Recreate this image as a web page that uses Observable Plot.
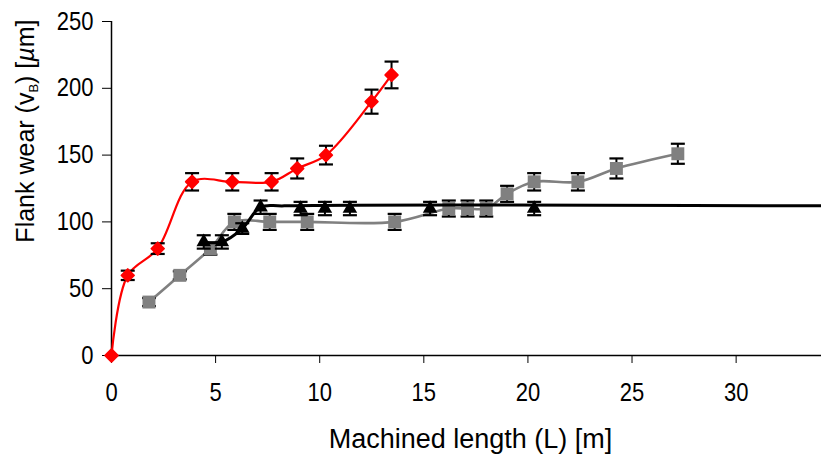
<!DOCTYPE html>
<html><head><meta charset="utf-8">
<script src="https://cdn.jsdelivr.net/npm/d3@7"></script>
<script src="https://cdn.jsdelivr.net/npm/@observablehq/plot@0.6"></script>
<style>
body{margin:0;background:#fff}
#chart{width:821px;height:459px}
</style>
</head><body><div id="chart"></div>
<script>
const xTicks = [0, 5, 10, 15, 20, 25, 30];
const yTicks = [0, 50, 100, 150, 200, 250];
const xLabel = "Machined length (L) [m]";
const yLabel = "Flank wear (vB) [µm]";

// red series (diamonds)
const redL = [0, 0.78, 2.22, 3.87, 5.8, 7.69, 8.92, 10.3, 12.49, 13.45];
const redV = [0, 60, 80, 130, 130, 130, 140, 150, 190, 210];
const redErr = [0, 3.5, 4, 6.5, 6.5, 6.5, 7.5, 7, 9, 10];

// gray series (squares)
const grayL = [1.8, 3.28, 4.75, 5.9, 7.6, 9.4, 13.6, 16.2, 17.1, 18.0, 19.0, 20.3, 22.4, 24.25, 27.2];
const grayV = [40, 60, 80, 100, 100, 100, 100, 110, 110, 110, 121, 130, 130, 140, 151];
const grayErr = [3, 3, 4.5, 6, 6, 6, 6, 6, 6, 6, 6, 6.5, 6.5, 7.5, 7.5];

// black series (triangles)
const blackL = [4.43, 5.3, 6.28, 7.16, 9.08, 10.25, 11.45, 15.3, 20.3];
const blackV = [85, 85, 95, 111, 110, 110, 110, 110, 110];
const blackErr = [5, 5, 4, 5, 5, 5, 5, 5, 5];
// black curve (levels off and runs to the right edge)
const blackLineL = [4.43, 5.3, 6.28, 7.16, 8.3, 34.1];
const blackLineV = [85, 85, 95, 111, 112, 112];

const xMax = 34.1;

const rows = (L, V, E) => L.map((l, i) => ({L: l, V: V[i], e: E ? E[i] : 0}));
const red = rows(redL, redV, redErr);
const gray = rows(grayL, grayV, grayErr);
const black = rows(blackL, blackV, blackErr);
const blackLine = rows(blackLineL, blackLineV);

const cap = {draw(ctx, size) { const r = Math.sqrt(size / Math.PI); ctx.moveTo(-r, 0); ctx.lineTo(r, 0); }};

function errorBars(data) {
  const d = data.filter(r => r.e > 0);
  return [
    Plot.ruleX(d, {x: "L", y1: r => r.V - r.e, y2: r => r.V + r.e, stroke: "black", strokeWidth: 2}),
    Plot.dot(d, {x: "L", y: r => r.V + r.e, symbol: cap, r: 7, stroke: "black", strokeWidth: 2.2}),
    Plot.dot(d, {x: "L", y: r => r.V - r.e, symbol: cap, r: 7, stroke: "black", strokeWidth: 2.2})
  ];
}

const chart = Plot.plot({
  width: 821,
  height: 459,
  marginLeft: 111,
  marginRight: 0,
  marginTop: 21,
  marginBottom: 104,
  style: {fontFamily: "'Liberation Sans', Arial, sans-serif", fontSize: "25px", color: "black", background: "white", overflow: "visible"},
  x: {domain: [0, xMax], ticks: xTicks, tickSize: 8, tickPadding: 20, label: null},
  y: {domain: [0, 250], ticks: yTicks, tickSize: 9, tickPadding: 9, label: null},
  marks: [
    Plot.ruleY([0], {stroke: "black", strokeWidth: 1.5}),
    Plot.ruleX([0], {stroke: "black", strokeWidth: 1.5}),
    // gray series
    Plot.line(gray, {x: "L", y: "V", stroke: "#808080", strokeWidth: 2.6, curve: "catmull-rom"}),
    ...errorBars(gray),
    Plot.dot(gray, {x: "L", y: "V", symbol: "square", r: 7.3, fill: "#808080"}),
    // black series
    Plot.line(blackLine, {x: "L", y: "V", stroke: "black", strokeWidth: 3, curve: "catmull-rom"}),
    ...errorBars(black),
    Plot.dot(black, {x: "L", y: "V", symbol: "triangle", r: 5.4, fill: "black"}),
    // red series
    Plot.line(red, {x: "L", y: "V", stroke: "#ff0000", strokeWidth: 2.2, curve: "catmull-rom"}),
    ...errorBars(red),
    Plot.dot(red, {x: "L", y: "V", symbol: "diamond2", r: 5.6, fill: "#ff0000", stroke: "#ff0000", strokeWidth: 2, strokeLinejoin: "round"}),
    // axis titles
    Plot.text([xLabel], {frameAnchor: "bottom", dx: 4, dy: 84, lineAnchor: "middle", fontSize: 27, fill: "black"}),
    Plot.text([yLabel], {frameAnchor: "top-left", dx: -86, dy: -2, rotate: -90, textAnchor: "end", lineAnchor: "middle", fontSize: 25, fill: "black"})
  ]
});

const svg = d3.select(chart);
// narrow the tick numerals like the original
const tickSet = new Set([...xTicks, ...yTicks].map(String));
svg.selectAll("text").filter(function() { return tickSet.has(this.textContent); }).each(function() {
  const tr = this.getAttribute("transform") || "";
  this.setAttribute("transform", tr + " scale(0.88,1)");
});

// subscript B and italic mu in the y title
svg.selectAll("text").filter(function() { return this.textContent === yLabel; }).each(function() {
  const t = d3.select(this);
  t.text(null);
  t.append("tspan").text("Flank wear (v");
  t.append("tspan").attr("font-size", "13px").attr("dy", "4").text("B");
  t.append("tspan").attr("dy", "-4").text(") [");
  t.append("tspan").attr("font-style", "italic").text("µ");
  t.append("tspan").text("m]");
});

document.getElementById("chart").appendChild(chart);
</script>
</body></html>
